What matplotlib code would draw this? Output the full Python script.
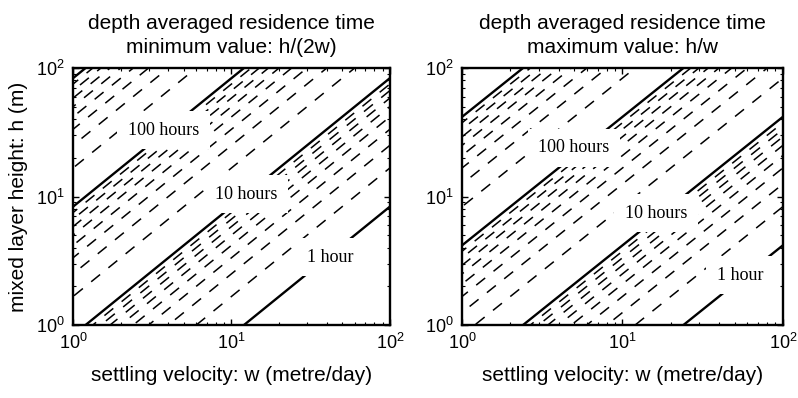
import numpy as np
import matplotlib
matplotlib.use("Agg")
import matplotlib.pyplot as plt

plt.rcParams['font.family'] = ['Liberation Sans', 'DejaVu Sans']
plt.rcParams['mathtext.default'] = 'regular'

# residence time contour levels (hours)
solid_levels = [1, 10, 100, 1000]
dashed_levels = [2, 3, 4, 5, 6, 7, 8, 9,
                 20, 30, 40, 50, 60, 70, 80, 90,
                 200, 300, 400, 500, 600, 700, 800, 900]

# settling velocity w (m/day) and mixed layer height h (m) ranges
w_range = [1, 100]
h_range = [1, 100]

# residence time = h / (divisor * w)
divisors = [2, 1]
titles = ["depth averaged residence time\nminimum value: h/(2w)",
          "depth averaged residence time\nmaximum value: h/w"]

# contour label text and (w, h) position
label_text = [["100 hours", "10 hours", "1 hour"],
              ["100 hours", "10 hours", "1 hour"]]
label_w = [[3.75, 12.4, 41.8], [4.99, 16.2, 54.0]]
label_h = [[32.9, 10.45, 3.38], [23.9, 7.44, 2.45]]

fig = plt.figure(figsize=(7.98, 3.98), dpi=100)
axes = [fig.add_axes([0.0915, 0.1834, 0.397, 0.6457]),
        fig.add_axes([0.579, 0.1834, 0.402, 0.6457])]

w = np.logspace(np.log10(w_range[0]), np.log10(w_range[1]), 301)
h = np.logspace(np.log10(h_range[0]), np.log10(h_range[1]), 301)
W, H = np.meshgrid(w, h)

# stagger dash phase so neighbouring lines don't line up
period = 14.5
dash_styles = [((k * period * 0.618) % period, (7.5, 7.0))
               for k in range(len(dashed_levels))]

for i, ax in enumerate(axes):
    T = 24.0 * H / (divisors[i] * W)
    ax.contour(W, H, T, levels=dashed_levels, colors='k',
               linewidths=1.1, linestyles=dash_styles)
    ax.contour(W, H, T, levels=solid_levels, colors='k',
               linewidths=1.7, linestyles='-')
    for txt, lw_, lh_ in zip(label_text[i], label_w[i], label_h[i]):
        ax.text(lw_, lh_, txt, ha='center', va='center', fontsize=13,
                family=['Liberation Serif', 'DejaVu Serif'], zorder=5,
                bbox=dict(boxstyle='square,pad=0.6', fc='white', ec='none'))
    ax.set_xscale('log')
    ax.set_yscale('log')
    ax.set_xlim(w_range)
    ax.set_ylim(h_range)
    ax.set_title(titles[i], fontsize=15, pad=11, linespacing=1.32)
    ax.set_xlabel("settling velocity: w (metre/day)", fontsize=15, labelpad=9)
    ax.tick_params(which='both', direction='in', top=True, right=True,
                   labelsize=13, pad=6)
    ax.tick_params(which='major', length=4, width=1)
    ax.tick_params(which='minor', length=2, width=0.8)
    for s in ax.spines.values():
        s.set_linewidth(1.7)

axes[0].set_ylabel("mixed layer height: h (m)", fontsize=15, labelpad=6)

fig.savefig("out.png", dpi=100)
